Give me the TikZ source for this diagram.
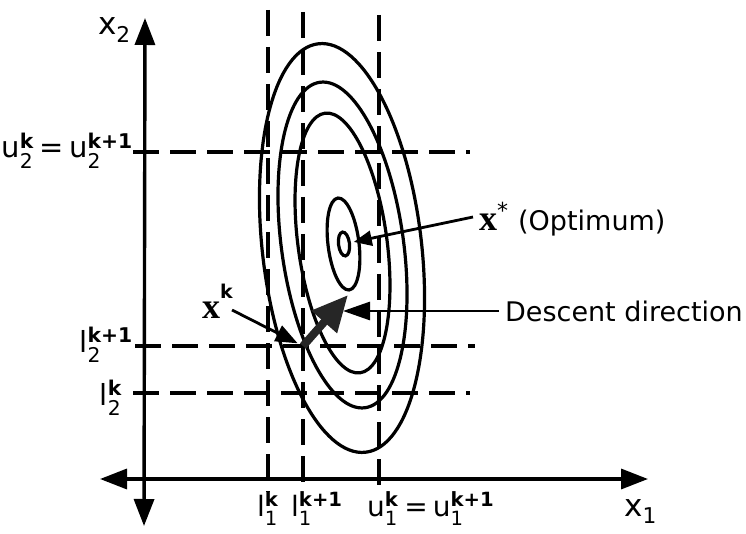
\documentclass[tikz,border=0pt]{standalone}
\usepackage{fontspec}
\usepackage{amsmath}
\setsansfont{DejaVu Sans}
\newfontfamily\bxfont{Liberation Serif}
\usetikzlibrary{arrows.meta}
\newcommand\eqsign{\hspace{6pt}=\hspace{5pt}}
\begin{document}
\begin{tikzpicture}[x=1pt,y=-1pt,
  axis/.style={line width=3.4pt,{Triangle[length=27pt,width=20pt]}-{Triangle[length=27pt,width=20pt]}},
  dsh/.style={line width=3.2pt,dash pattern=on 26pt off 11pt},
  ell/.style={line width=3.2pt},
  lab/.style={font=\sffamily\fontsize{29}{30}\selectfont,inner sep=0pt},
  blab/.style={font=\sffamily\fontsize{28}{30}\selectfont,inner sep=0pt},
  axlab/.style={font=\sffamily\fontsize{31}{32}\selectfont,inner sep=0pt},
  txt/.style={font=\sffamily\fontsize{27}{30}\selectfont,inner sep=0pt},
  ptr/.style={line width=2.8pt,-{Triangle[length=22pt,width=17pt]}},
  bigarrow/.style={line width=8pt,black!85,-{Triangle[length=36pt,width=32pt]}},
]
\useasboundingbox (0,0) rectangle (746,534);
% axes
\coordinate (yb) at (144,526);
\coordinate (yt) at (145,18);
\coordinate (xl) at (100,479);
\coordinate (xr) at (648,479);
\draw[axis] (yb) -- (yt);
\draw[axis] (xl) -- (xr);
% dashed bound lines
\coordinate (u2a) at (133,152); \coordinate (u2b) at (470,152);
\coordinate (l2a) at (135,346); \coordinate (l2b) at (475,346);
\coordinate (l2ka) at (133,393); \coordinate (l2kb) at (470,393);
\coordinate (l1a) at (268,10); \coordinate (l1b) at (268,492);
\coordinate (l1ka) at (303,12); \coordinate (l1kb) at (303,492);
\coordinate (u1a) at (379,15); \coordinate (u1b) at (379,490);
\draw[dsh] (u2a) -- (u2b);
\draw[dsh] (l2a) -- (l2b);
\draw[dsh] (l2ka) -- (l2kb);
\draw[dsh] (l1a) -- (l1b);
\draw[dsh] (l1ka) -- (l1kb);
\draw[dsh] (u1a) -- (u1b);
% level sets
\draw[ell,rotate around={6.6:(342,248)}] (342,248) ellipse [x radius=79.6,y radius=205.6];
\draw[ell,rotate around={7.9:(342.5,245)}] (342.5,245) ellipse [x radius=61,y radius=164.3];
\draw[ell,rotate around={7.7:(342.5,243)}] (342.5,243) ellipse [x radius=44.5,y radius=131];
\draw[ell,rotate around={7:(343.5,244)}] (343.5,244) ellipse [x radius=15.5,y radius=46.3];
\draw[ell,rotate around={7:(344,244)}] (344,244) ellipse [x radius=5.5,y radius=12];
% axis labels
\node[axlab,anchor=base east] (x2) at (131,35) {x$_{\text{2}}$};
\node[axlab,anchor=base west] (x1) at (624,516) {x$_{\text{1}}$};
% bound labels
\node[lab,anchor=base east] (u2lab) at (133,158) {u$^{\text{\bfseries k}}_{\text{2}}$\eqsign u$^{\text{\bfseries k+1}}_{\text{2}}$};
\node[lab,anchor=base east] (l2lab) at (133,352) {l$^{\text{\bfseries k+1}}_{\text{2}}$};
\node[lab,anchor=base east] (l2klab) at (122,405) {l$^{\text{\bfseries k}}_{\text{2}}$};
\node[blab,anchor=base west] (l1lab) at (257,516) {l$^{\text{\bfseries k}}_{\text{1}}$};
\node[blab,anchor=base west] (l1klab) at (291,516) {l$^{\text{\bfseries k+1}}_{\text{1}}$};
\node[blab,anchor=base west] (u1lab) at (367,516) {u$^{\text{\bfseries k}}_{\text{1}}$\eqsign u$^{\text{\bfseries k+1}}_{\text{1}}$};
% annotations
\node[txt,anchor=base west] (xs) at (479,231) {{\bxfont\bfseries\fontsize{36}{36}\selectfont x}\raisebox{12pt}{\fontsize{22}{22}\selectfont *}\hspace{10pt}(Optimum)};
\node[txt,anchor=base west] (xklab) at (202,318) {{\bxfont\bfseries\fontsize{36}{36}\selectfont x}\raisebox{20pt}{\bfseries\fontsize{19}{19}\selectfont k}};
\node[txt,anchor=west] (desc) at (505,311) {Descent direction};
% points and pointers
\coordinate (xk) at (303,346);
\coordinate (opt) at (344,244);
\coordinate (xsstart) at (473,217);
\coordinate (xkstart) at (232,310);
\coordinate (dtip) at (348,295);
\coordinate (dptip) at (343,311);
\draw[ptr,-{Triangle[length=18pt,width=15pt]},shorten >=10pt] (xsstart) -- (opt);
\draw[ptr,shorten >=6pt] (xkstart) -- (xk);
\draw[ptr,-{Triangle[length=27pt,width=18pt]}] ([xshift=-6pt]desc.west) -- (dptip);
\draw[bigarrow] (xk) -- (dtip);
\end{tikzpicture}
\end{document}
